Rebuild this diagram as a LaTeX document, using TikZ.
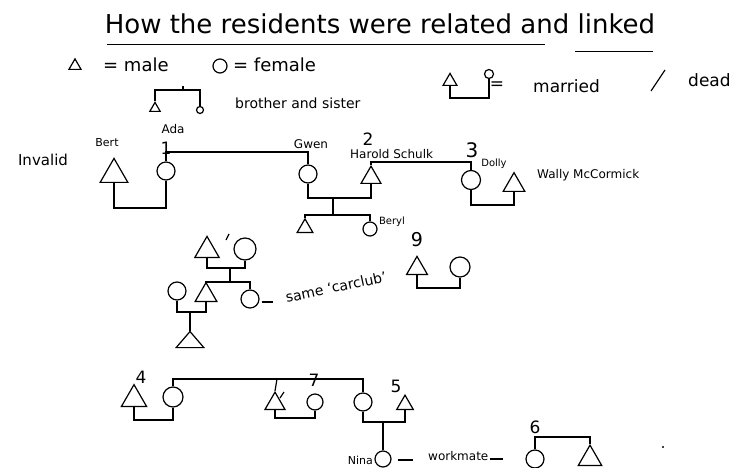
\documentclass[tikz,border=0pt]{standalone}
\usepackage{fontspec}
\setmainfont{DejaVu Sans}
\usetikzlibrary{shapes.geometric}
\begin{document}
\begin{tikzpicture}[x=1pt,y=-1pt,
  ink/.style={line width=1.2pt, black},
  tri/.style={regular polygon, regular polygon sides=3, draw, ink, inner sep=0pt, anchor=south},
  fem/.style={circle, draw, ink, inner sep=0pt},
  link/.style={ink},
  fs/.style={font=\fontsize{#1}{#1}\selectfont},
  lbl/.style={inner sep=0pt},
  num/.style={inner sep=0pt, fs=17},
]
\useasboundingbox (0,0) rectangle (749,468);

% title
\node[lbl, fs=26] (title) at (380,24) {How the residents were related and linked};
\draw[ink, line width=0.8pt] (107,44) -- (545,44);
\draw[ink, line width=0.8pt] (575,51) -- (653,51);

% legend
\node[tri, minimum size=14] (lgm) at (75,70) {};
\node[lbl, fs=18, anchor=west] (lgmt) at (103,65) {= male};
\node[fem, minimum size=14] (lgf) at (220,66) {};
\node[lbl, fs=18, anchor=west] (lgft) at (233,65) {= female};

\node[tri, minimum size=12] (bsm) at (155,112) {};
\node[fem, minimum size=7] (bsf) at (200,110) {};
\coordinate (bsbar) at (183,90);
\draw[link] (bsm.north) |- (bsbar) -| (bsf.north);
\draw[link] (bsbar) -- ++(0,-4);
\node[lbl, fs=14, anchor=west] (bstxt) at (235,103) {brother and sister};

\node[tri, minimum size=16] (mdm) at (450,86) {};
\node[fem, minimum size=9] (mdf) at (489,74) {};
\coordinate (mdbar) at (468,98);
\draw[link] (mdm.south) |- (mdbar) -| (mdf.south);
\node[lbl, fs=17] (mdeq) at (497,86) {=};
\node[lbl, fs=17, anchor=west] (mdtxt) at (533,86) {married};
\draw[ink] (651,91) -- (665,70);
\node[lbl, fs=17, anchor=west] (deadtxt) at (688,80) {dead};

% row 1
\node[lbl, fs=15] (inv) at (43,160) {Invalid};
\node[lbl, fs=11] (bertl) at (107,143) {Bert};
\node[tri, minimum size=32] (bert) at (114,183) {};
\node[lbl, fs=12] (adal) at (173,129) {Ada};
\node[num] (n1) at (166,148) {1};
\node[fem, minimum size=18] (ada) at (166,171) {};
\coordinate (bar1) at (140,208);
\draw[link] (bert.south) |- (bar1) -| (ada.south);

\node[lbl, fs=12] (gwenl) at (311,144) {Gwen};
\node[fem, minimum size=18] (gwen) at (308,174) {};
\coordinate (sib1) at (240,152);
\draw[link] (ada.north) |- (sib1) -| (gwen.north);

\node[num] (n2) at (368,139) {2};
\node[lbl, fs=12, anchor=west] (harl) at (350,154) {Harold Schulk};
\node[tri, minimum size=23] (harold) at (371,184) {};
\node[lbl, fs=20] (n3) at (472,150) {3};
\node[lbl, fs=10] (dollyl) at (494,164) {Dolly};
\node[fem, minimum size=19] (dolly) at (471,180) {};
\coordinate (sib2) at (420,162);
\draw[link] (harold.north) |- (sib2) -| (dolly.north);
\node[tri, minimum size=25] (wally) at (514,192) {};
\coordinate (bar2) at (490,205);
\draw[link] (dolly.south) |- (bar2) -| (wally.south);
\node[lbl, fs=12, anchor=west] (wallyl) at (537,175) {Wally McCormick};

\coordinate (bar3) at (333,198);
\draw[link] (gwen.south) |- (bar3) -| (harold.south);
\coordinate (kids1) at (333,215);
\draw[link] (bar3) -- (kids1);
\node[tri, minimum size=18] (son1) at (305,233) {};
\node[fem, minimum size=14] (beryl) at (370,229) {};
\draw[link] (son1.north) |- (kids1) -| (beryl.north);
\node[lbl, fs=10] (beryll) at (392,222) {Beryl};

% 9
\node[lbl, fs=19] (n9) at (417,240) {9};
\node[tri, minimum size=24] (nine) at (417,275) {};
\node[fem, minimum size=20] (ninew) at (460,267) {};
\coordinate (bar4) at (440,288);
\draw[link] (nine.south) |- (bar4) -| (ninew.south);

% middle left family
\node[tri, minimum size=28] (ta) at (207,258) {};
\draw[ink] (226,240) -- (229,234);
\node[fem, minimum size=22] (ca) at (245,249) {};
\coordinate (bar5) at (230,268);
\draw[link] (ta.south) |- (bar5) -| (ca.south);
\coordinate (kids2) at (230,282);
\draw[link] (bar5) -- (kids2);
\node[tri, minimum size=25] (tb) at (206,302) {};
\node[fem, minimum size=18] (cb) at (250,299) {};
\draw[link] (tb.north) |- (kids2) -| (cb.north);
\node[fem, minimum size=18] (cl) at (177,291) {};
\coordinate (bar6) at (190,312);
\draw[link] (cl.south) |- (bar6) -| (tb.south);
\node[tri, minimum size=32, yscale=0.67, transform shape] (tc) at (190,348) {};
\draw[link] (bar6) -- (tc.north);
\node[lbl, fs=14, rotate=12] (carclub) at (336,287) {same ‘carclub’};
\draw[link] (cb.east) ++(2,3) -- ++(11,0);

% bottom family
\node[num] (n4) at (141,377) {4};
\node[tri, minimum size=29] (t4) at (134,407) {};
\node[fem, minimum size=20] (c4) at (173,397) {};
\coordinate (bar7) at (150,420);
\draw[link] (t4.south) |- (bar7) -| (c4.south);

\node[num] (n7) at (314,380) {7};
\node[tri, minimum size=23] (t7) at (275,410) {};
\draw[ink] (280,398) -- (284,392);
\node[fem, minimum size=16] (c7) at (315,402) {};
\coordinate (bar8) at (293,418);
\draw[link] (t7.south) |- (bar8) -| (c7.south);

\node[fem, minimum size=18] (c5w) at (363,402) {};
\node[num] (n5) at (396,386) {5};
\node[tri, minimum size=19] (t5) at (405,410) {};
\coordinate (bar9) at (383,422);
\draw[link] (c5w.south) |- (bar9) -| (t5.south);

\coordinate (sib3) at (277,379);
\draw[link] (c4.north) |- (sib3) -| (c5w.north);
\draw[link] (sib3) -- (t7.north);

\node[fem, minimum size=16] (nina) at (383,459) {};
\draw[link] (bar9) -- (nina.north);
\node[lbl, fs=11, anchor=east] (ninal) at (373,460) {Nina};
\draw[link] (nina.east) ++(6,1) -- ++(15,0);
\node[lbl, fs=12, anchor=west] (wm) at (428,456) {workmate};
\draw[link] (wm.east) ++(1,3) -- ++(13,0);

\node[num] (n6) at (535,427) {6};
\node[fem, minimum size=18] (c6) at (535,459) {};
\node[tri, minimum size=27] (t6) at (590,466) {};
\coordinate (sib4) at (563,437);
\draw[link] (c6.north) |- (sib4) -| (t6.north);
\fill (663,447) circle (1.2);
\end{tikzpicture}
\end{document}
